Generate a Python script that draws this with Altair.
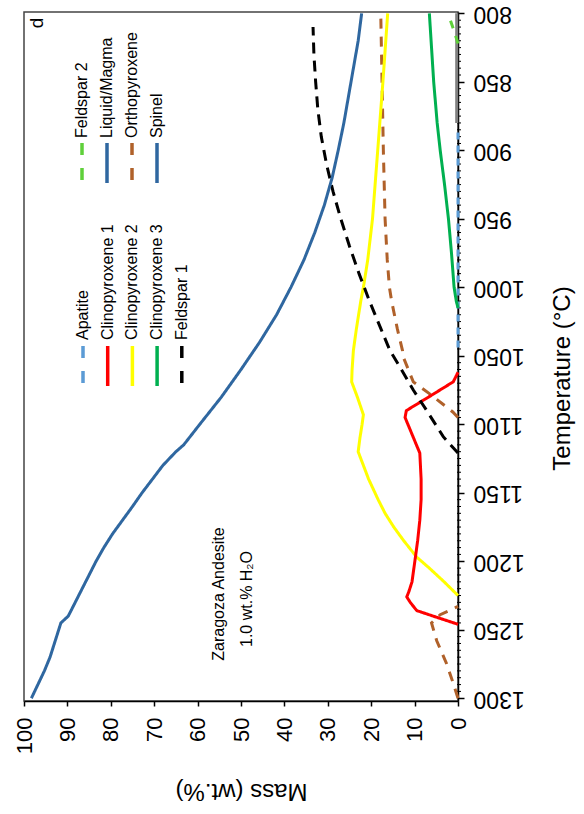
import altair as alt
import pandas as pd

# ---------------- data ----------------
liquid_T = [1300, 1290, 1280, 1270, 1260, 1250, 1245, 1240, 1230, 1220, 1210, 1200, 1190, 1180,
            1170, 1160, 1150, 1140, 1130, 1120, 1115, 1100, 1080, 1060, 1040, 1020, 1000, 980,
            960, 940, 920, 900, 880, 860, 840, 820, 800]
liquid_m = [98.3, 96.8, 95.3, 94.0, 93.0, 92.0, 91.5, 89.8, 88.2, 86.6, 85.0, 83.4, 81.6, 79.6,
            77.3, 75.0, 72.8, 70.4, 68.0, 65.0, 63.2, 59.5, 54.5, 50.0, 45.7, 41.8, 38.5, 35.5,
            33.0, 30.8, 29.0, 27.6, 26.3, 25.2, 24.1, 23.0, 22.2]

cpx1_T = [1246, 1241, 1236, 1230, 1226, 1222, 1215, 1199, 1185, 1170, 1155, 1140, 1121, 1108,
          1095, 1090, 1078, 1069, 1064, 1062]
cpx1_m = [0, 4.8, 9.5, 11.0, 11.8, 11.3, 10.6, 9.9, 9.3, 8.8, 8.5, 8.5, 8.8, 10.5,
          12.2, 11.9, 5.7, 1.1, 0.3, 0]

cpx2_T = [1225, 1215, 1205, 1197, 1185, 1175, 1165, 1155, 1140, 1125, 1120, 1110, 1100, 1093,
          1080, 1069, 1060, 1046, 1030, 1010, 1000, 980, 950, 900, 850, 800]
cpx2_m = [0, 3.2, 6.6, 9.5, 12.5, 14.8, 16.8, 18.4, 20.6, 22.4, 23.0, 22.6, 22.1, 21.8,
          23.2, 24.5, 24.4, 24.1, 23.4, 22.4, 21.8, 20.8, 19.7, 18.5, 17.3, 16.2]

cpx3_T = [1015, 1010, 1000, 975, 950, 925, 900, 880, 850, 820, 800]
cpx3_m = [0, 0.4, 0.9, 1.5, 2.2, 3.1, 4.1, 4.8, 5.6, 6.2, 6.6]

fsp1_T = [1121, 1109, 1090, 1075, 1058, 1046, 1030, 1010, 990, 970, 950, 930, 910, 890,
          870, 850, 830, 810]
fsp1_m = [0, 3.4, 7.2, 10.3, 13.4, 15.7, 17.8, 20.4, 22.8, 25.0, 27.0, 28.8, 30.3, 31.5,
          32.3, 32.8, 33.2, 33.4]

fsp2_T = [822, 812, 800]
fsp2_m = [0, 1.0, 2.3]

opx_hi_T = [1300, 1290, 1275, 1258, 1245, 1239, 1233]
opx_hi_m = [0, 1.0, 2.6, 4.9, 6.1, 4.1, 0]
opx_lo_T = [1095, 1091, 1079, 1069, 1051, 1046, 1030, 1010, 1000, 980, 950, 900, 850, 800]
opx_lo_m = [0, 1.2, 6.0, 10.3, 12.6, 12.8, 14.0, 15.3, 15.8, 16.3, 16.8, 17.2, 17.5, 17.8]

apatite_T = [1044, 885]
apatite_m = [0.0, 0.0]

grey_T = [880, 800]
grey_m = [0.3, 0.3]

series_names = ["Apatite", "Clinopyroxene 1", "Clinopyroxene 2", "Clinopyroxene 3",
                "Feldspar 1", "Feldspar 2", "Liquid/Magma", "Orthopyroxene", "Spinel", "grey"]
series_colors = ["#5b9bd5", "#ff0000", "#ffff00", "#00b050",
                 "#000000", "#5fd03a", "#2f67a0", "#b0612a", "#2f67a0", "#808080"]
series_dashes = [[7, 6], [1, 0], [1, 0], [1, 0], [11, 7], [8, 8], [1, 0], [10, 8], [1, 0], [1, 0]]

segments = [
    ("Apatite", "ap", apatite_T, apatite_m),
    ("grey", "gr", grey_T, grey_m),
    ("Clinopyroxene 3", "c3", cpx3_T, cpx3_m),
    ("Feldspar 2", "f2", fsp2_T, fsp2_m),
    ("Orthopyroxene", "o1", opx_hi_T, opx_hi_m),
    ("Orthopyroxene", "o2", opx_lo_T, opx_lo_m),
    ("Clinopyroxene 2", "c2", cpx2_T, cpx2_m),
    ("Clinopyroxene 1", "c1", cpx1_T, cpx1_m),
    ("Feldspar 1", "f1", fsp1_T, fsp1_m),
    ("Liquid/Magma", "lq", liquid_T, liquid_m),
]

rows = []
for name, seg, Ts, ms in segments:
    for i, (t, m) in enumerate(zip(Ts, ms)):
        rows.append({"series": name, "seg": seg, "idx": i, "T": t, "mass": m})
df = pd.DataFrame(rows)

mass_ticks = list(range(0, 101, 10))
temp_ticks = list(range(800, 1301, 50))
temp_minor = [t for t in range(805, 1300, 5) if t % 50 != 0]

legend_col1 = ["Apatite", "Clinopyroxene 1", "Clinopyroxene 2", "Clinopyroxene 3", "Feldspar 1"]
legend_col2 = ["Feldspar 2", "Liquid/Magma", "Orthopyroxene", "Spinel"]

FONT = "Liberation Sans"
W, H = 434, 689
PL, PT = 24, 12

xscale = alt.Scale(domain=[0, 100], reverse=True, nice=False)
yscale = alt.Scale(domain=[799, 1302], reverse=True, nice=False, zero=False)

y_axis = alt.Axis(values=temp_ticks, orient="right", format="d", labelAngle=180,
                  labelAlign="right", labelBaseline="middle", labelFontSize=23,
                  labelFont=FONT, labelColor="#000", tickSize=6, tickColor="#000",
                  tickWidth=1.5, domainColor="#000", domainWidth=1.5, labelPadding=9,
                  grid=False, title="Temperature (°C)", titleAngle=270,
                  titleFontSize=24, titleFont=FONT, titleFontWeight="normal",
                  titleColor="#000", titleX=104, titleY=366,
                  titleBaseline="middle", titleAlign="center", zindex=0)

lines = alt.Chart(df).mark_line(strokeWidth=3, clip=False, strokeCap="butt").encode(
    x=alt.X("mass:Q", scale=xscale,
            axis=alt.Axis(values=mass_ticks, format="d", labelAngle=270, labelAlign="right",
                          labelBaseline="middle", labelFontSize=22, labelFont=FONT,
                          labelColor="#000", tickSize=5, tickColor="#000", tickWidth=1.5,
                          domainColor="#000", domainWidth=1.5, labelPadding=11, grid=False,
                          title="Mass (wt.%)", titleAngle=180, titleFontSize=24,
                          titleFont=FONT, titleFontWeight="normal", titleColor="#000",
                          titleY=89, titleBaseline="middle", titleAlign="center",
                          zindex=0)),
    y=alt.Y("T:Q", scale=yscale, axis=y_axis),
    color=alt.Color("series:N", scale=alt.Scale(domain=series_names, range=series_colors),
                    legend=None),
    strokeDash=alt.StrokeDash("series:N",
                              scale=alt.Scale(domain=series_names, range=series_dashes),
                              legend=None),
    detail="seg:N",
    order="idx:Q",
)

minor = alt.Chart(pd.DataFrame({"T": temp_minor})).mark_rule(
    color="#000", strokeWidth=1).encode(
    y=alt.Y("T:Q", scale=yscale, axis=y_axis),
    x=alt.value(W - 1), x2=alt.value(W + 3),
)

layers = [minor, lines]

one = pd.DataFrame({"k": [0]})


def legend_entry(label, px, text_bottom, sym_top, sym_bot):
    i = series_names.index(label)
    dash = series_dashes[i]
    if dash != [1, 0]:
        dash = [12, 13]
    rule = alt.Chart(one).mark_rule(
        color=series_colors[i], strokeWidth=3.5, strokeDash=dash, strokeCap="butt").encode(
        x=alt.value(px - PL), y=alt.value(sym_top - PT), y2=alt.value(sym_bot - PT))
    txt = alt.Chart(one).mark_text(
        angle=270, align="left", baseline="middle", font=FONT, fontSize=16,
        color="#000").encode(
        x=alt.value(px - PL), y=alt.value(text_bottom - PT), text=alt.value(label))
    return [rule, txt]


for k, lab in enumerate(legend_col1):
    layers += legend_entry(lab, 83 + 24.7 * k, 340, 346, 386)
for k, lab in enumerate(legend_col2):
    layers += legend_entry(lab, 82 + 25 * k, 138, 143, 183)

note1 = alt.Chart(one).mark_text(angle=270, align="center", baseline="middle", font=FONT,
                                 fontSize=16, color="#000").encode(
    x=alt.value(219 - PL), y=alt.value(594 - PT), text=alt.value("Zaragoza Andesite"))
note2 = alt.Chart(one).mark_text(angle=270, align="center", baseline="middle", font=FONT,
                                 fontSize=16, color="#000").encode(
    x=alt.value(247 - PL), y=alt.value(599 - PT), text=alt.value("1.0 wt.% H₂O"))
panel = alt.Chart(one).mark_text(angle=270, align="center", baseline="middle", font=FONT,
                                 fontSize=19, color="#000").encode(
    x=alt.value(37 - PL), y=alt.value(23 - PT), text=alt.value("d"))
layers += [note1, note2, panel]

chart = alt.layer(*layers).properties(
    width=W, height=H,
    padding={"left": PL, "top": PT, "right": 584 - PL - W, "bottom": 814 - PT - H},
    autosize=alt.AutoSizeParams(type="none"),
    background="white",
).configure_view(stroke="#444", strokeWidth=1.5)

chart.save("out.html", embed_options={"renderer": "svg", "actions": False})
